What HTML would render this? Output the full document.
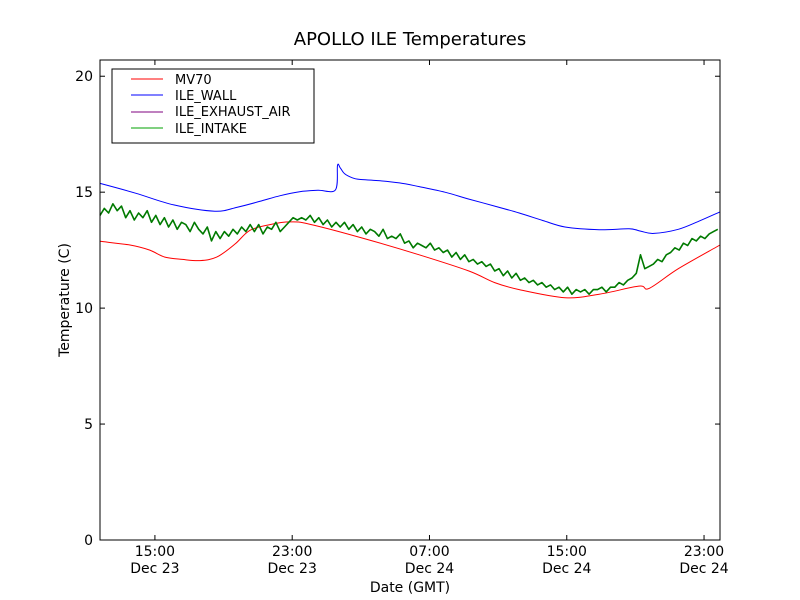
<!DOCTYPE html>
<html><head><meta charset="utf-8"><style>body{margin:0;background:#fff}svg{display:block;font-family:"DejaVu Sans","Liberation Sans",sans-serif}</style></head>
<body>
<svg id="chart" width="800" height="600">
<rect x="0" y="0" width="800" height="600" fill="#fff"/>
<text x="410" y="45" text-anchor="middle" font-size="18">APOLLO ILE Temperatures</text>
<text x="410" y="592" text-anchor="middle" font-size="14">Date (GMT)</text>
<text transform="translate(69,300) rotate(-90)" text-anchor="middle" font-size="14">Temperature (C)</text>
<g id="plot"></g>
<rect x="100" y="60" width="620" height="480" fill="none" stroke="#000" stroke-width="1"/>
<g>
<rect x="112" y="69" width="202" height="74" fill="#fff" stroke="#000" stroke-width="1"/>
<line x1="131" y1="79" x2="163" y2="79" stroke="#ff0000"/>
<text x="175" y="84" font-size="13">MV70</text>
<line x1="131" y1="95" x2="163" y2="95" stroke="#0000ff"/>
<text x="175" y="100" font-size="13">ILE_WALL</text>
<line x1="131" y1="112" x2="163" y2="112" stroke="#7f007f"/>
<text x="175" y="116" font-size="13">ILE_EXHAUST_AIR</text>
<line x1="131" y1="128" x2="163" y2="128" stroke="#00a000"/>
<text x="175" y="133" font-size="13">ILE_INTAKE</text>
</g>
</svg>
<script>
const yTicks=[0,5,10,15,20];
const xTickHours=[15,23,31,39,47];
const xTickLabels=[["15:00","Dec 23"],["23:00","Dec 23"],["07:00","Dec 24"],["15:00","Dec 24"],["23:00","Dec 24"]];
const mvHours=[11.8,13.55,14.7,15.58,16.6,17.62,18.6,19.65,20.53,21.7,22.85,24.02,27.2,30.4,33.3,34.8,36.23,38.9,40.89,43.2,43.8,45.5,47.93];
const mvValues=[12.88,12.72,12.5,12.2,12.1,12.05,12.2,12.75,13.35,13.6,13.72,13.62,13.0,12.3,11.6,11.1,10.8,10.45,10.6,10.95,10.85,11.7,12.72];
const wallHours=[11.8,13.9,16.1,18.49,19.8,21.1,22.3,23.43,24.5,25.52,25.64,25.8,26.05,26.5,26.92,28.0,29.25,30.4,31.9,33.3,34.8,36.23,37.6,38.9,40.89,42.63,43.3,44.08,45.5,46.7,47.93];
const wallValues=[15.38,14.95,14.45,14.18,14.35,14.6,14.85,15.02,15.08,15.1,16.15,16.05,15.8,15.62,15.55,15.5,15.4,15.24,15.0,14.7,14.4,14.1,13.78,13.5,13.38,13.42,13.32,13.22,13.4,13.75,14.15];
const intakeStart=11.8, intakeStep=0.25;
const intakeValues=[14.0,14.3,14.1,14.5,14.2,14.4,13.9,14.2,13.8,14.1,13.9,14.2,13.7,14.0,13.6,13.9,13.5,13.8,13.4,13.7,13.6,13.3,13.7,13.4,13.2,13.5,12.9,13.3,13.0,13.3,13.1,13.4,13.2,13.5,13.3,13.6,13.3,13.6,13.2,13.5,13.4,13.7,13.3,13.5,13.7,13.9,13.8,13.9,13.8,14.0,13.7,13.9,13.6,13.8,13.5,13.7,13.5,13.7,13.4,13.6,13.3,13.5,13.2,13.4,13.3,13.1,13.4,13.0,13.1,13.0,13.2,12.8,12.9,12.6,12.8,12.7,12.6,12.8,12.5,12.6,12.4,12.5,12.2,12.4,12.1,12.3,12.0,12.1,11.9,12.0,11.8,11.9,11.6,11.7,11.4,11.6,11.3,11.5,11.2,11.3,11.1,11.2,11.0,11.1,10.9,11.0,10.8,10.9,10.7,10.9,10.6,10.8,10.7,10.8,10.6,10.8,10.8,10.9,10.7,10.9,10.9,11.1,11.0,11.2,11.3,11.5,12.3,11.7,11.8,11.9,12.1,12.0,12.3,12.4,12.6,12.5,12.8,12.7,13.0,12.9,13.1,13.0,13.2,13.3,13.4];
const X0=100,X1=720,Y0=540,Y1=60,HMIN=11.8,HMAX=47.93,VMIN=0,VMAX=20.7;
const xs=h=>X0+(h-HMIN)/(HMAX-HMIN)*(X1-X0);
const ys=v=>Y0-(v-VMIN)/(VMAX-VMIN)*(Y0-Y1);
const NS="http://www.w3.org/2000/svg";
const plot=document.getElementById('plot');
function mk(t,a){const e=document.createElementNS(NS,t);for(const k in a)e.setAttribute(k,a[k]);return e;}
yTicks.forEach(v=>{
  const y=ys(v);
  const g=mk('g',{});
  
  
  g.appendChild(mk('line',{x1:X0,y1:y,x2:X0+5,y2:y,stroke:'#000'}));
  g.appendChild(mk('line',{x1:X1,y1:y,x2:X1-5,y2:y,stroke:'#000'}));
  const t=mk('text',{x:X0-7,y:y+5,'text-anchor':'end','font-size':14});t.textContent=v;g.appendChild(t);
  plot.appendChild(g);
});
xTickHours.forEach((h,i)=>{
  const x=xs(h);
  const g=mk('g',{});
  
  
  g.appendChild(mk('line',{x1:x,y1:Y0,x2:x,y2:Y0-5,stroke:'#000'}));
  g.appendChild(mk('line',{x1:x,y1:Y1,x2:x,y2:Y1+5,stroke:'#000'}));
  const t1=mk('text',{x:x,y:556,'text-anchor':'middle','font-size':14});t1.textContent=xTickLabels[i][0];g.appendChild(t1);
  const t2=mk('text',{x:x,y:573,'text-anchor':'middle','font-size':14});t2.textContent=xTickLabels[i][1];g.appendChild(t2);
  plot.appendChild(g);
});
function smoothPath(pts){
  let d='M'+pts[0][0].toFixed(1)+','+pts[0][1].toFixed(1);
  for(let i=0;i<pts.length-1;i++){
    const p0=pts[Math.max(0,i-1)],p1=pts[i],p2=pts[i+1],p3=pts[Math.min(pts.length-1,i+2)];
    const c1x=p1[0]+(p2[0]-p0[0])/6,c1y=p1[1]+(p2[1]-p0[1])/6;
    const c2x=p2[0]-(p3[0]-p1[0])/6,c2y=p2[1]-(p3[1]-p1[1])/6;
    d+=' C'+c1x.toFixed(1)+','+c1y.toFixed(1)+' '+c2x.toFixed(1)+','+c2y.toFixed(1)+' '+p2[0].toFixed(1)+','+p2[1].toFixed(1);
  }
  return d;
}
function line(hs,vs,color,w,name,smooth){
  const pts=hs.map((h,i)=>[xs(h),ys(vs[i])]);
  let p;
  if(smooth){p=mk('path',{d:smoothPath(pts),fill:'none',stroke:color,'stroke-width':w});}
  else{p=mk('polyline',{points:pts.map(q=>q[0].toFixed(1)+','+q[1].toFixed(1)).join(' '),fill:'none',stroke:color,'stroke-width':w,'stroke-linejoin':'round'});}
  
  
  plot.appendChild(p);
}
line(mvHours,mvValues,'#ff0000',1,'mv70-line',true);
line(wallHours,wallValues,'#0000ff',1,'ile-wall-line',true);
const intakeHours=intakeValues.map((_,i)=>intakeStart+i*intakeStep);
line(intakeHours,intakeValues,'#007a00',1.6,'ile-intake-line',false);
</script>
</body></html>
